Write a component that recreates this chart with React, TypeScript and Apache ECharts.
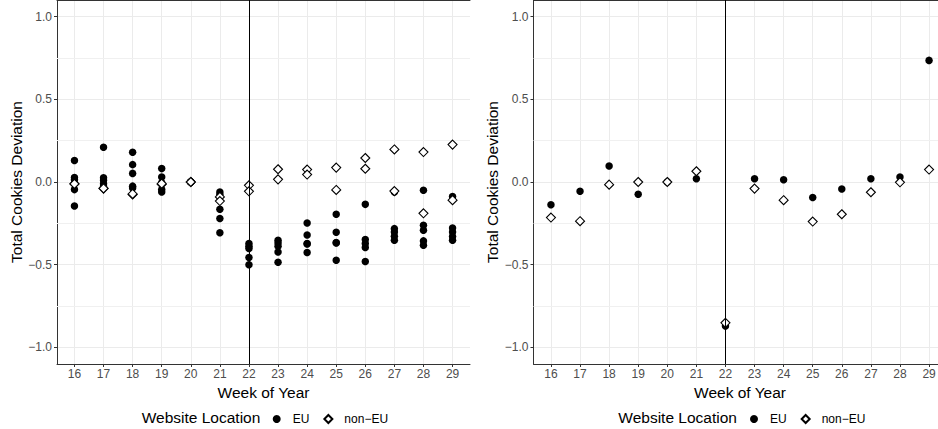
import React, { useEffect, useRef } from "react";
import * as echarts from "echarts";

const weeks = [16, 17, 18, 19, 20, 21, 22, 23, 24, 25, 26, 27, 28, 29];

// Left panel: several websites per week
const euLeft = [
  [0.13, 0.027, 0.014, -0.046, -0.145],
  [0.21, 0.025, 0.01, -0.01, -0.025],
  [0.18, 0.105, 0.052, -0.025, -0.036],
  [0.081, 0.03, -0.005, -0.045, -0.06],
  [0, 0, 0, 0, 0],
  [-0.06, -0.076, -0.165, -0.221, -0.307],
  [-0.372, -0.388, -0.402, -0.457, -0.5],
  [-0.352, -0.368, -0.388, -0.423, -0.485],
  [-0.248, -0.32, -0.372, -0.374, -0.426],
  [-0.195, -0.304, -0.366, -0.368, -0.473],
  [-0.135, -0.348, -0.372, -0.396, -0.481],
  [-0.06, -0.282, -0.302, -0.328, -0.352],
  [-0.05, -0.261, -0.292, -0.356, -0.382],
  [-0.088, -0.278, -0.302, -0.33, -0.352],
];
const nonEuLeft = [
  [-0.01, -0.012],
  [-0.04, -0.038],
  [-0.076, -0.072],
  [-0.014, -0.01],
  [0, 0],
  [-0.09, -0.115],
  [-0.02, -0.056],
  [0.077, 0.016],
  [0.075, 0.045],
  [0.087, -0.048],
  [0.145, 0.08],
  [0.197, -0.055],
  [0.181, -0.189],
  [0.226, -0.11],
];

// Right panel: aggregated per week
const euRight = [-0.137, -0.056, 0.097, -0.074, 0, 0.02, -0.871, 0.02, 0.014, -0.094, -0.042, 0.02, 0.03, 0.735];
const nonEuRight = [-0.215, -0.237, -0.016, 0.0, 0, 0.065, -0.851, -0.04, -0.11, -0.239, -0.195, -0.062, -0.002, 0.075];

const yTicks = [-1, -0.5, 0, 0.5, 1];
const yMinorTicks = [-0.75, -0.25, 0.25, 0.75];
const policyWeek = 22;

const FONT = "'Liberation Sans', Arial, Helvetica, sans-serif";
const INK = "#333333";
const GRID = "#ebebeb";

function groupedPairs(groups: number[][]) {
  return weeks.flatMap((w, i) => groups[i].map((v) => [w, v]));
}
function pairs(vals: number[]) {
  return weeks.map((w, i) => [w, vals[i]]);
}
function fmt(v: number) {
  return v.toFixed(1).replace("-", "\u2212");
}

export default function App() {
  const ref = useRef<HTMLDivElement>(null);
  useEffect(() => {
    document.body.style.margin = "0";
    const chart = echarts.init(ref.current!, null, { renderer: "svg" });
    const grids = [
      { left: 57, top: 0, width: 413, height: 364 },
      { left: 533.5, top: 0, width: 413, height: 364 },
    ];
    const xAxes: any[] = [];
    const yAxes: any[] = [];
    grids.forEach((_, gi) => {
      xAxes.push({
        type: "value",
        gridIndex: gi,
        min: 15.4,
        max: 29.6,
        name: "Week of Year",
        nameLocation: "middle",
        nameGap: 13,
        nameTextStyle: { fontSize: 15.5, color: "#000", fontFamily: FONT },
        axisLine: { show: true, onZero: false, lineStyle: { color: INK, width: 1 } },
        axisTick: { show: true, customValues: weeks, length: 3, lineStyle: { color: INK } },
        axisLabel: { customValues: weeks, color: "#4d4d4d", fontSize: 12, margin: 4, fontFamily: FONT },
        splitLine: { show: true, lineStyle: { color: GRID, width: 1 } },
      });
      xAxes.push({
        type: "value",
        gridIndex: gi,
        position: "top",
        min: 15.4,
        max: 29.6,
        axisLine: { show: true, onZero: false, lineStyle: { color: INK, width: 1 } },
        axisTick: { show: false },
        axisLabel: { show: false },
        splitLine: { show: false },
      });
      yAxes.push({
        type: "value",
        gridIndex: gi,
        min: -1.1,
        max: 1.1,
        name: "Total Cookies Deviation",
        nameLocation: "middle",
        nameGap: 32,
        nameRotate: 90,
        nameTextStyle: { fontSize: 15.5, color: "#000", fontFamily: FONT },
        axisLine: { show: true, onZero: false, lineStyle: { color: INK, width: 1 } },
        axisTick: { show: true, customValues: yTicks, length: 3, lineStyle: { color: INK } },
        axisLabel: { customValues: yTicks, formatter: fmt, color: "#4d4d4d", fontSize: 12, margin: 5, fontFamily: FONT },
        splitLine: { show: true, lineStyle: { color: GRID, width: 1 } },
      });
    });

    const euStyle = { color: "#000", opacity: 1 };
    const nonEuStyle = { color: "#fff", borderColor: "#000", borderWidth: 1.1, opacity: 1 };
    const minorLines = {
      silent: true,
      symbol: "none",
      z: 1,
      label: { show: false },
      lineStyle: { color: "#f0f0f0", width: 1, type: "solid" },
      data: yMinorTicks.map((v) => ({ yAxis: v })),
    };
    const vline = {
      silent: true,
      symbol: "none",
      label: { show: false },
      lineStyle: { color: "#000", width: 1, type: "solid" },
      data: [{ xAxis: policyWeek }],
    };
    const panels = [
      { eu: groupedPairs(euLeft), non: groupedPairs(nonEuLeft) },
      { eu: pairs(euRight), non: pairs(nonEuRight) },
    ];
    const series: any[] = [];
    panels.forEach((p, gi) => {
      series.push({
        name: "EU",
        type: "scatter",
        xAxisIndex: gi * 2,
        yAxisIndex: gi,
        symbol: "circle",
        symbolSize: 7.5,
        itemStyle: euStyle,
        data: p.eu,
        markLine: minorLines,
      });
      series.push({
        name: "non\u2212EU",
        type: "scatter",
        xAxisIndex: gi * 2,
        yAxisIndex: gi,
        symbol: "diamond",
        symbolSize: 9,
        itemStyle: nonEuStyle,
        data: p.non,
        markLine: vline,
      });
    });

    const legendBase = {
      orient: "horizontal",
      top: 413,
      padding: 0,
      itemWidth: 8,
      itemHeight: 8,
      itemGap: 14,
      selectedMode: false,
      textStyle: { fontSize: 12, color: "#000", fontFamily: FONT, padding: [0, 0, 0, 7] },
      data: [
        { name: "EU", icon: "circle" },
        { name: "non\u2212EU", icon: "diamond" },
      ],
    };

    chart.setOption({
      animation: false,
      textStyle: { fontFamily: FONT },
      grid: grids,
      xAxis: xAxes,
      yAxis: yAxes,
      legend: [
        { ...legendBase, left: 272.7 },
        { ...legendBase, left: 750 },
      ],
      graphic: [
        {
          type: "text",
          x: 141.7,
          y: 417,
          style: { text: "Website Location", fontSize: 15.5, fontFamily: FONT, fill: "#000", verticalAlign: "middle" },
        },
        {
          type: "text",
          x: 618.3,
          y: 417,
          style: { text: "Website Location", fontSize: 15.5, fontFamily: FONT, fill: "#000", verticalAlign: "middle" },
        },
      ],
      series,
    });
    return () => chart.dispose();
  }, []);
  return (
    <div style={{ position: "absolute", left: 0, top: 0, width: 938, height: 429, overflow: "hidden" }}>
      <div ref={ref} style={{ width: 960, height: 429 }} />
    </div>
  );
}
